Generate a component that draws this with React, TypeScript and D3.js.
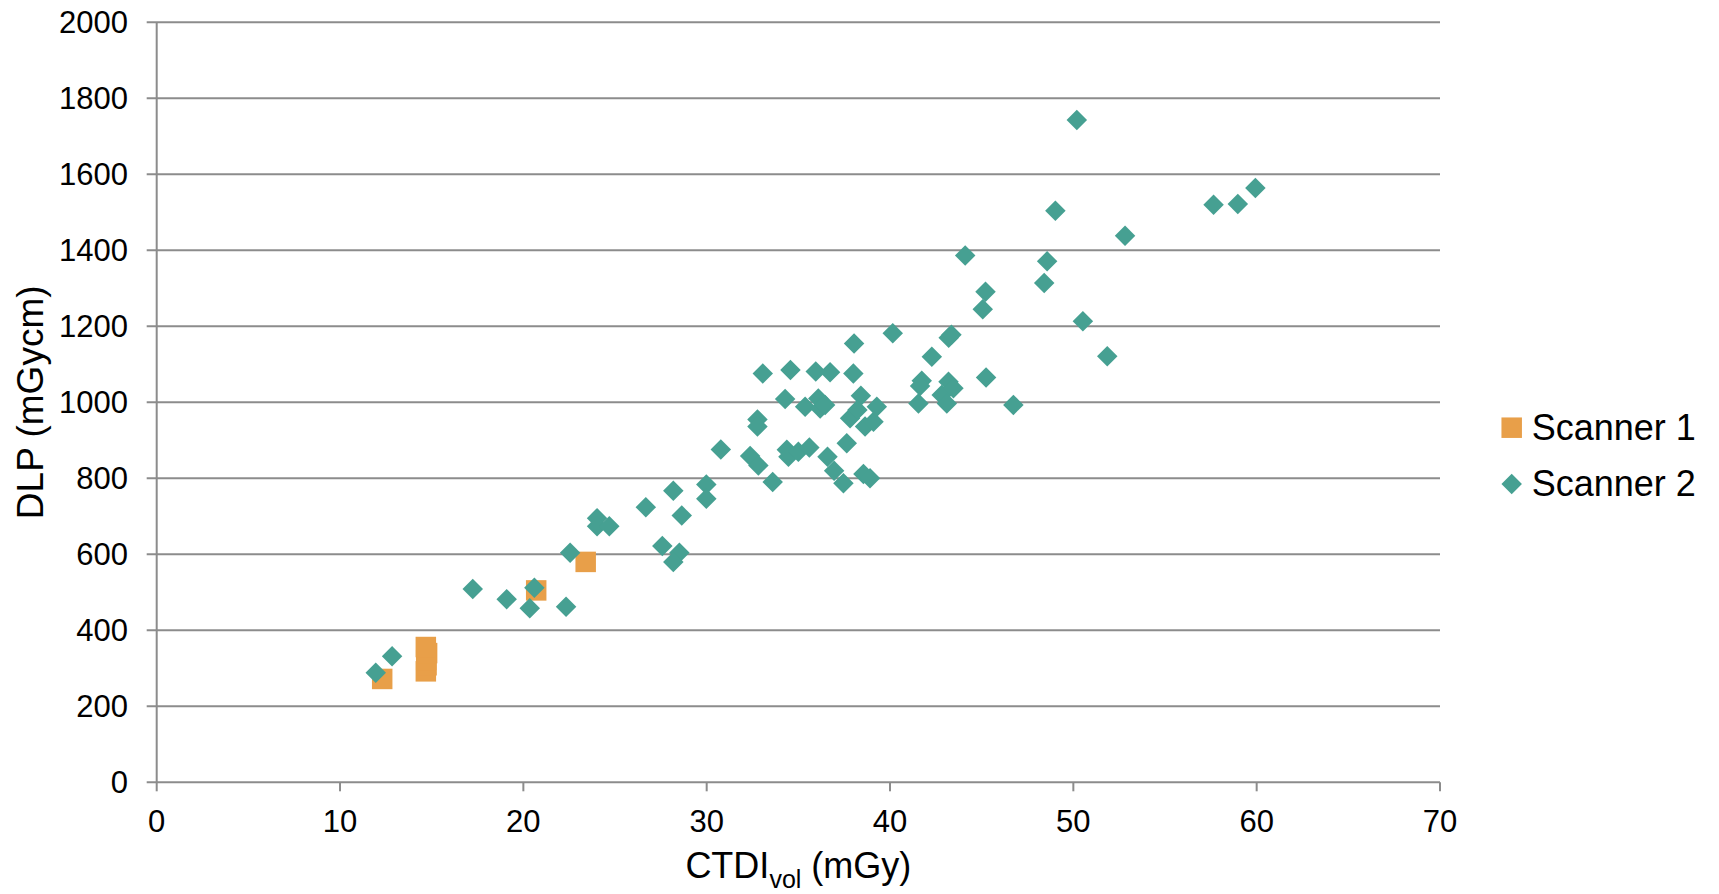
import React from "react";
import * as d3 from "d3";

const xTicks = [0, 10, 20, 30, 40, 50, 60, 70];
const yTicks = [0, 200, 400, 600, 800, 1000, 1200, 1400, 1600, 1800, 2000];

const seriesNames = ["Scanner 1", "Scanner 2"];

// Scanner 1: [CTDIvol, DLP]
const scanner1: [number, number][] = [
  [12.3, 272], [14.68, 292], [14.72, 308], [14.7, 322], [14.75, 340], [14.68, 356],
  [20.7, 505], [23.4, 580],
];

// Scanner 2: [CTDIvol, DLP]
const scanner2: [number, number][] = [
  [11.95, 288], [12.84, 332], [17.24, 509], [19.09, 482], [20.6, 512], [20.35, 458],
  [22.33, 462], [22.55, 604], [24.02, 695], [24.02, 674], [24.69, 674], [26.68, 724],
  [28.18, 767], [28.64, 702], [27.58, 622], [28.51, 604], [28.18, 580], [29.98, 784],
  [29.98, 746], [30.77, 876], [32.37, 859], [32.82, 834], [33.6, 790], [32.77, 955],
  [32.77, 936], [33.06, 1076], [34.28, 1009], [34.57, 1085], [34.37, 875], [34.46, 857],
  [35.0, 870], [35.6, 881], [35.37, 988], [36.09, 1010], [36.19, 984], [36.46, 993],
  [35.95, 1081], [36.73, 1079], [36.59, 857], [36.95, 820], [37.46, 787], [37.64, 892],
  [38.0, 1076], [38.04, 1155], [38.41, 1017], [37.82, 958], [38.22, 980], [38.64, 936],
  [39.1, 949], [39.28, 988], [38.55, 811], [38.91, 800], [40.15, 1182], [41.55, 997],
  [41.73, 1057], [41.64, 1043], [42.28, 1120], [43.2, 1170], [43.35, 1178], [42.82, 1019],
  [43.1, 997], [43.19, 1054], [43.46, 1037], [45.24, 1065], [46.73, 993], [44.1, 1386],
  [45.21, 1291], [45.06, 1245], [48.57, 1371], [48.41, 1314], [49.02, 1504], [50.19, 1743],
  [50.52, 1213], [51.85, 1121], [52.82, 1438], [57.65, 1520], [58.97, 1522], [59.93, 1564],
];

const W = 1719;
const H = 894;
const M = { left: 156.7, right: 1440, top: 22.3, bottom: 782.3 };
const ORANGE = "#E89F49";
const TEAL = "#46A092";
const GRID = "#8C8C8C";
const FONT = "Arial, 'Liberation Sans', Helvetica, sans-serif";

export default function App() {
  const x = d3.scaleLinear().domain([0, 70]).range([M.left, M.right]);
  const y = d3.scaleLinear().domain([0, 2000]).range([M.bottom, M.top]);
  const sq = d3.symbol().type(d3.symbolSquare).size(420)() as string;
  const dia = d3.symbol().type(d3.symbolSquare).size(210)() as string;

  return (
    <svg
      width={W}
      height={H}
      style={{ position: "absolute", left: 0, top: 0, background: "#fff" }}
      fontFamily={FONT}
    >
      {yTicks.map((t) => (
        <g key={"y" + t}>
          <line x1={M.left - 10} x2={M.right} y1={y(t)} y2={y(t)} stroke={GRID} strokeWidth={2} />
          <text x={128} y={y(t) + 11} textAnchor="end" fontSize={31} fill="#000">
            {t}
          </text>
        </g>
      ))}
      <line x1={M.left} x2={M.left} y1={M.top} y2={M.bottom} stroke={GRID} strokeWidth={2} />
      {xTicks.map((t) => (
        <g key={"x" + t}>
          <line x1={x(t)} x2={x(t)} y1={M.bottom} y2={M.bottom + 9} stroke={GRID} strokeWidth={2} />
          <text x={x(t)} y={832} textAnchor="middle" fontSize={31} fill="#000">
            {t}
          </text>
        </g>
      ))}

      {scanner1.map((d, i) => (
        <path key={"s1" + i} d={sq} transform={`translate(${x(d[0])},${y(d[1])})`} fill={ORANGE} />
      ))}
      {scanner2.map((d, i) => (
        <path
          key={"s2" + i}
          d={dia}
          transform={`translate(${x(d[0])},${y(d[1])}) rotate(45)`}
          fill={TEAL}
        />
      ))}

      <text
        transform={`translate(43,${(M.top + M.bottom) / 2}) rotate(-90)`}
        textAnchor="middle"
        fontSize={37}
        fill="#000"
      >
        DLP (mGycm)
      </text>
      <text x={(M.left + M.right) / 2} y={878} textAnchor="middle" fontSize={36} fill="#000">
        CTDI
        <tspan fontSize={25} dy={10}>vol</tspan>
        <tspan dy={-10}> (mGy)</tspan>
      </text>

      <path d={sq} transform="translate(1511.7,427.7)" fill={ORANGE} />
      <text x={1531.7} y={440} fontSize={36} fill="#000">
        {seriesNames[0]}
      </text>
      <path d={dia} transform="translate(1511.7,484) rotate(45)" fill={TEAL} />
      <text x={1531.7} y={496} fontSize={36} fill="#000">
        {seriesNames[1]}
      </text>
    </svg>
  );
}
